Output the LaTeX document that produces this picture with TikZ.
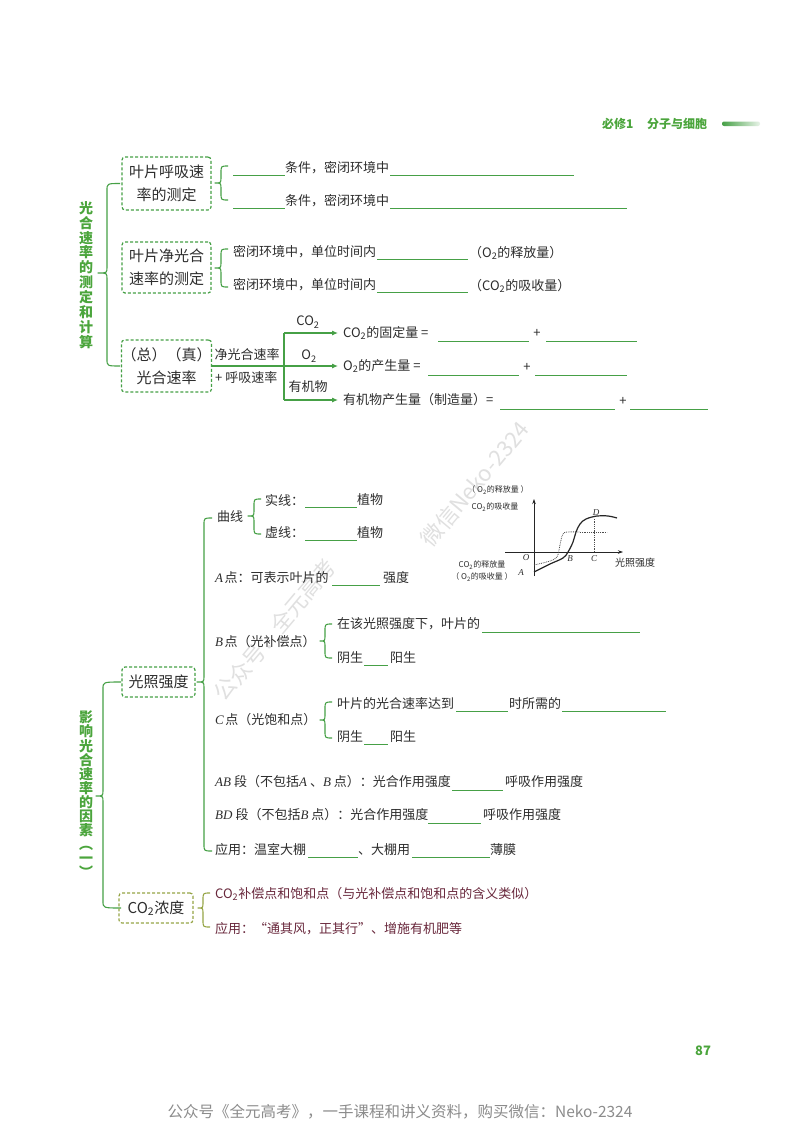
\documentclass[tikz,border=0pt]{standalone}
\usepackage{fontspec}
\setmainfont{Noto Sans CJK SC}
\newfontfamily\lserif{Liberation Serif}
\usetikzlibrary{arrows.meta}
\definecolor{gline}{RGB}{70,160,70}
\definecolor{gtitle}{RGB}{75,165,60}
\definecolor{ink}{RGB}{45,45,45}
\definecolor{maroon}{RGB}{105,40,60}
\definecolor{olive}{RGB}{150,165,70}
\newcommand\iv[1]{{\lserif\itshape #1}}
\newcommand\ivs[1]{{\lserif\itshape #1}\hspace{3pt}}
\newcommand\ivt[1]{{\lserif\itshape #1}\hspace{1.5pt}}
\newcommand\ttwo{\textsubscript{2}}
% #1 colour, #2 spine x, #3 top y, #4 tip y, #5 bottom y, #6 arm end x, #7 tip x
\newcommand\cbrace[7]{\draw[#1,line width=1.1pt,line join=round]
  (#6,#3) .. controls (#2,#3) .. (#2,{#3+7}) -- (#2,{#4-6})
  .. controls (#2,#4) .. (#7,#4) .. controls (#2,#4) .. (#2,{#4+6})
  -- (#2,{#5-7}) .. controls (#2,#5) .. (#6,#5);}
\tikzset{
 txt/.style={anchor=west, inner sep=0pt, text=ink, font=\fontsize{13}{16}\selectfont},
 ctxt/.style={inner sep=0pt, text=ink, font=\fontsize{13}{16}\selectfont},
 mtxt/.style={txt, text=maroon},
 blank/.style={draw=gline, line width=0.9pt},
 gbox/.style={draw=gline, dash pattern=on 3pt off 2pt, rounded corners=3pt, line width=1.2pt,
   align=center, inner sep=0pt, text=ink, font=\fontsize{15}{23}\selectfont},
 vtitle/.style={align=center, inner sep=0pt, text=gtitle, font=\fontsize{14}{14.9}\selectfont\bfseries},
 arr/.style={draw=gline, line width=1.1pt, -{Latex[length=6pt,width=5pt]}, shorten >=5pt},
 gtxt/.style={inner sep=0pt, text=ink, font=\fontsize{8}{9}\selectfont},
 glet/.style={inner sep=0pt, text=ink, font=\fontsize{9}{10}\selectfont\lserif\itshape},
 wmark/.style={inner sep=0pt, text=black!12, font=\fontsize{22}{24}\selectfont, rotate=50},
}
\begin{document}
\begin{tikzpicture}[x=1pt,y=-1pt]
\fill[white] (0,0) rectangle (800,1132);
\useasboundingbox (0,0) rectangle (800,1132);

% watermarks
\node[wmark] (w1) at (275,630) {公众号：全元高考};
\node[wmark] (w2) at (475,484) {微信Neko-2324};

% header
\node[anchor=west, inner sep=0pt, text=gtitle, font=\fontsize{12}{14}\selectfont\bfseries] (h1) at (602,124) {必修1};
\node[anchor=west, inner sep=0pt, text=gtitle, font=\fontsize{12}{14}\selectfont\bfseries] (h2) at (647,124) {分子与细胞};
\shade[left color=gline, right color=gline!12, rounded corners=2pt] (722,121.5) rectangle (760,126);

% ===== section 1 =====
\node[vtitle] (t1) at (86,275) {光\\合\\速\\率\\的\\测\\定\\和\\计\\算};
\cbrace{gline}{107}{183.5}{273}{366}{120}{98}

\node[gbox, minimum width=89pt, minimum height=53pt] (b1) at (166.5,183.5) {叶片呼吸速\\率的测定};
\cbrace{gline}{221}{166}{183}{200}{228}{215}
\draw[blank] (233,175) -- (285,175);
\node[txt] (r1) at (285,168) {条件，密闭环境中};
\draw[blank] (390,175) -- (574,175);
\draw[blank] (233,208) -- (285,208);
\node[txt] (r2) at (285,201) {条件，密闭环境中};
\draw[blank] (390,208) -- (627,208);

\node[gbox, minimum width=89pt, minimum height=51pt] (b2) at (166.5,267.5) {叶片净光合\\速率的测定};
\cbrace{gline}{221}{249}{268}{287}{228}{215}
\node[txt] (n1) at (233,252) {密闭环境中，单位时间内};
\draw[blank] (377,259) -- (468,259);
\node[txt] (n1b) at (469,253) {（O\ttwo 的释放量）};
\node[txt] (n2) at (233,285) {密闭环境中，单位时间内};
\draw[blank] (377,292) -- (468,292);
\node[txt] (n2b) at (469,286) {（CO\ttwo 的吸收量）};

\node[gbox, minimum width=89pt, minimum height=52pt] (b3) at (166.5,366) {（总）（真）\\光合速率};
\node[ctxt] (k1) at (247,355) {净光合速率};
\node[txt] (k2) at (215,378) {+ 呼吸速率};
\coordinate (j1) at (284,333);
\coordinate (j3) at (284,400);
\node[txt] (e1) at (343,333) {CO\ttwo 的固定量 =};
\node[txt] (e2) at (343,366) {O\ttwo 的产生量 =};
\node[txt] (e3) at (343,400) {有机物产生量（制造量）=};
\draw[gline, line width=1.1pt] (j1) -- (j3);
\draw[arr] (b3.east) -- (e2.west);
\draw[arr] (j1) -- (e1.west);
\draw[arr] (j3) -- (e3.west);
\node[ctxt] (l1) at (308,322) {CO\ttwo};
\node[ctxt] (l2) at (309,356) {O\ttwo};
\node[ctxt] (l3) at (308,387) {有机物};
\draw[blank] (438,341) -- (529,341);
\node[ctxt] (p1) at (537,333) {+};
\draw[blank] (546,341) -- (637,341);
\draw[blank] (428,375) -- (519,375);
\node[ctxt] (p2) at (527,367) {+};
\draw[blank] (535,375) -- (627,375);
\draw[blank] (500,409) -- (615,409);
\node[ctxt] (p3) at (623,401) {+};
\draw[blank] (630,409) -- (708,409);

% ===== section 2 =====
\node[vtitle, font=\fontsize{14}{14.1}\selectfont\bfseries] (t2) at (86,794.5) {影\\响\\光\\合\\速\\率\\的\\因\\素\\︵\\一\\︶};
\cbrace{gline}{103}{682}{796}{908}{121}{96}
\node[gbox, minimum width=73pt, minimum height=30pt] (c1) at (158.5,682) {光照强度};
\node[gbox, draw=olive, minimum width=74pt, minimum height=30pt] (c2) at (156,908) {CO\ttwo 浓度};
\cbrace{gline}{204}{518}{682}{851}{212}{197}

\node[txt] (q1) at (217,517) {曲线};
\cbrace{gline}{254}{499}{516}{534}{261}{248}
\node[txt] (q2) at (265,500) {实线：};
\draw[blank] (305,507) -- (357,507);
\node[txt] (q3) at (357,500) {植物};
\node[txt] (q4) at (265,533) {虚线：};
\draw[blank] (305,540) -- (357,540);
\node[txt] (q5) at (357,533) {植物};

\node[txt] (a1) at (215,578) {\ivt{A}点：可表示叶片的};
\draw[blank] (332,585) -- (380,585);
\node[txt] (a2) at (383,578) {强度};

\node[txt] (bb) at (215,642) {\ivt{B}点（光补偿点）};
\cbrace{gline}{325}{624}{641}{658}{332}{320}
\node[txt] (bb1) at (337,624) {在该光照强度下，叶片的};
\draw[blank] (482,632) -- (640,632);
\node[txt] (bb2) at (337,658) {阴生};
\draw[blank] (364,665) -- (388,665);
\node[txt] (bb3) at (390,658) {阳生};

\node[txt] (cc) at (215,720) {\ivt{C}点（光饱和点）};
\cbrace{gline}{325}{702}{720}{738}{332}{320}
\node[txt] (cc1) at (337,704) {叶片的光合速率达到};
\draw[blank] (456,711) -- (508,711);
\node[txt] (cc2) at (509,704) {时所需的};
\draw[blank] (562,711) -- (666,711);
\node[txt] (cc3) at (337,737) {阴生};
\draw[blank] (364,744) -- (388,744);
\node[txt] (cc4) at (390,737) {阳生};

\node[txt] (ab) at (215,782) {\ivs{AB}段（不包括\ivs{A}、\ivs{B}点）：光合作用强度};
\draw[blank] (452,790) -- (503,790);
\node[txt] (ab2) at (505,782) {呼吸作用强度};
\node[txt] (bd) at (215,815) {\ivs{BD}段（不包括\ivs{B}点）：光合作用强度};
\draw[blank] (428,823) -- (481,823);
\node[txt] (bd2) at (483,815) {呼吸作用强度};

\node[txt] (ap) at (215,850) {应用：温室大棚};
\draw[blank] (308,857) -- (358,857);
\node[txt] (ap2) at (358,850) {、大棚用};
\draw[blank] (412,857) -- (490,857);
\node[txt] (ap3) at (490,850) {薄膜};

\cbrace{olive}{203}{893}{908}{927}{210}{198}
\node[mtxt] (m1) at (215,894) {CO\ttwo 补偿点和饱和点（与光补偿点和饱和点的含义类似）};
\node[mtxt] (m2) at (215,929) {应用：“通其风，正其行”、增施有机肥等};

% ===== graph =====
\draw[black!85, line width=0.7pt, -{Stealth[length=5pt,width=3.5pt]}] (534,576) -- (534,499);
\draw[black!85, line width=0.7pt, -{Stealth[length=5pt,width=3.5pt]}] (505,552) -- (623,552);
\draw[black!85, line width=1.2pt] plot[smooth, tension=0.6] coordinates {(534,572) (550,564) (563,558) (568,552) (573,542) (576,532) (580,524) (586,519) (597,516) (608,516) (617,518)};
\draw[black!70, line width=0.8pt, densely dotted] plot[smooth, tension=0.6] coordinates {(534,565) (550,561) (557,557) (559,550) (561,540) (563,534) (567,532) (580,532)};
\draw[black!70, line width=0.8pt, densely dotted] (580,532) -- (607,532);
\draw[black!70, line width=0.8pt, densely dotted] (594,552) -- (594,518);
\node[gtxt] (g1) at (498,490) {（ O\ttwo 的释放量 ）};
\node[gtxt] (g2) at (495,507) {CO\ttwo 的吸收量};
\node[gtxt] (g3) at (482,565) {CO\ttwo 的释放量};
\node[gtxt] (g4) at (482,577) {（ O\ttwo 的吸收量 ）};
\node[inner sep=0pt, text=ink, font=\fontsize{10}{11}\selectfont] (g5) at (635,563) {光照强度};
\node[glet] (gO) at (526,558) {O};
\node[glet] (gA) at (521,573) {A};
\node[glet] (gB) at (570,559) {B};
\node[glet] (gC) at (594,559) {C};
\node[glet] (gD) at (596,513) {D};

% footer
\node[inner sep=0pt, text=gtitle, font=\fontsize{13}{15}\selectfont\bfseries] (pg) at (703,1051) {87};
\node[inner sep=0pt, text=black!45, font=\fontsize{15.5}{18}\selectfont] (ft) at (400,1112) {公众号《全元高考》，一手课程和讲义资料，购买微信：Neko-2324};
\end{tikzpicture}
\end{document}
